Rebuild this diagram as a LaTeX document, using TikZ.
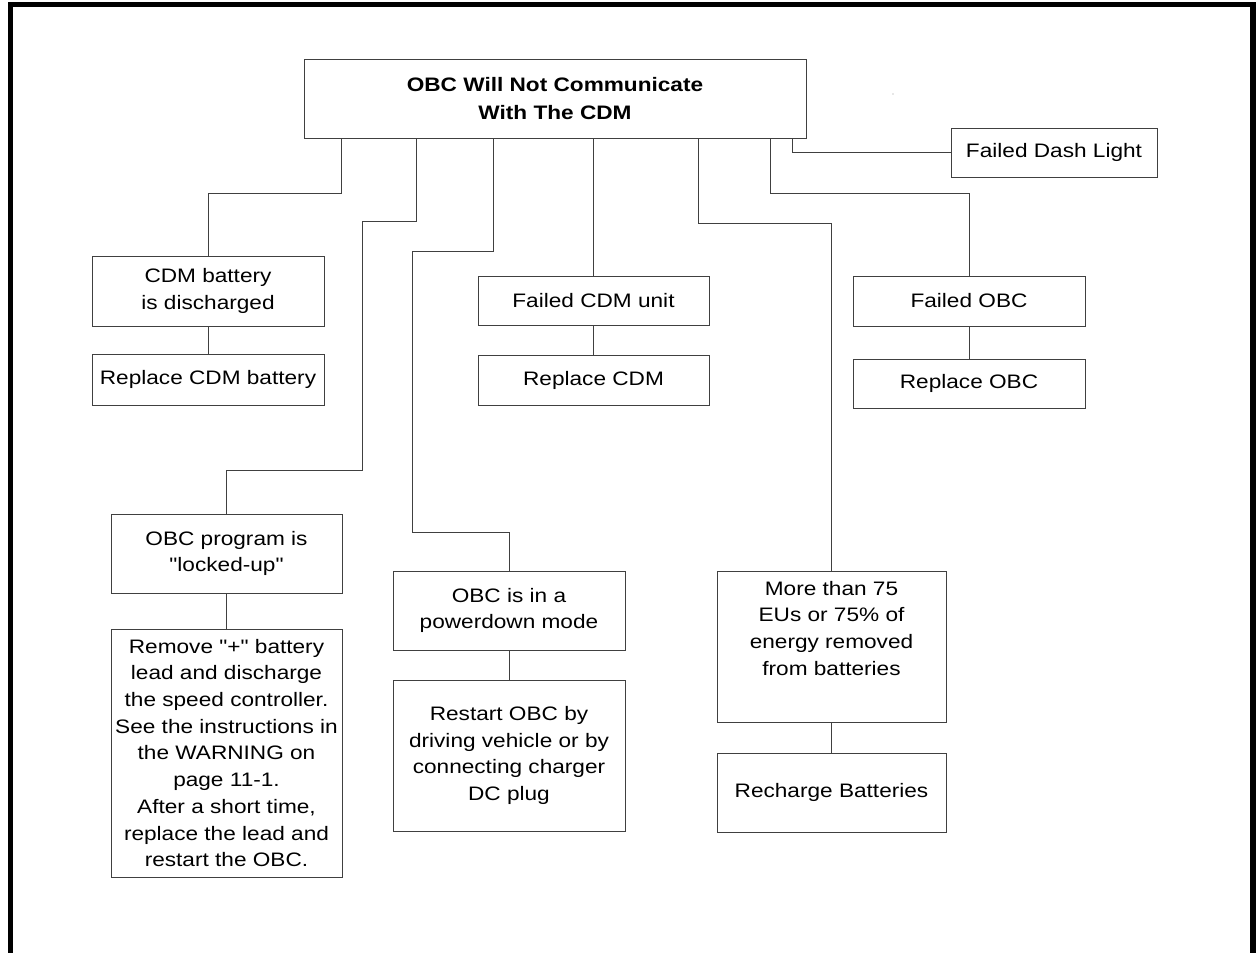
\documentclass[tikz,border=0pt]{standalone}
\usepackage{fontspec}
\setmainfont{Liberation Sans}[FakeStretch=1.16,Ligatures=TeXOff]
\begin{document}
\begin{tikzpicture}[x=1pt,y=-1pt,
  box/.style={draw=black!75,line width=1pt,align=center,inner sep=0pt,
    font=\fontsize{19.5}{26.7}\selectfont},
  conn/.style={draw=black!75,line width=1pt}]
\useasboundingbox (0,0) rectangle (1256,953);
\draw[line width=5.5pt] (10.5,953) -- (10.5,4.5) -- (1253,4.5) -- (1253,953);
\fill[black!40] (893,94) circle (0.7);
% nodes
\node[box,minimum width=502,minimum height=79,font=\fontsize{19.5}{28}\selectfont\bfseries] (main) at (555,98.5) {OBC Will Not Communicate\\With The CDM};
\node[box,minimum width=206,minimum height=49] (dash) at (1054,152.5) {Failed Dash Light};
\node[box,minimum width=232,minimum height=70] (cdmbat) at (208,291) {CDM battery\\is discharged};
\node[box,minimum width=232,minimum height=51] (repbat) at (208,379.5) {Replace CDM battery};
\node[box,minimum width=231,minimum height=49] (failcdm) at (593.5,300.5) {Failed CDM unit};
\node[box,minimum width=231,minimum height=50] (repcdm) at (593.5,380) {Replace CDM};
\node[box,minimum width=232,minimum height=50] (failobc) at (969,301) {Failed OBC};
\node[box,minimum width=232,minimum height=49] (repobc) at (969,383.5) {Replace OBC};
\node[box,minimum width=231,minimum height=79] (locked) at (226.5,553.5) {OBC program is\\"locked-up"};
\node[box,minimum width=231,minimum height=248] (remove) at (226.5,753) {Remove "+" battery\\lead and discharge\\the speed controller.\\See the instructions in\\the WARNING on\\page 11-1.\\After a short time,\\replace the lead and\\restart the OBC.};
\node[box,minimum width=232,minimum height=79] (powerdown) at (509,610.5) {OBC is in a\\powerdown mode};
\node[box,minimum width=232,minimum height=151] (restart) at (509,755.5) {Restart OBC by\\driving vehicle or by\\connecting charger\\DC plug};
\node[box,minimum width=229,minimum height=151] (more) at (831.5,646.5) {More than 75\\EUs or 75\% of\\energy removed\\from batteries\\[10pt]};
\node[box,minimum width=229,minimum height=79] (recharge) at (831.5,792.5) {Recharge Batteries};
% bend coordinates
\coordinate (b1) at (341,193);
\coordinate (b2a) at (416,221);
\coordinate (b2b) at (362,470);
\coordinate (b3a) at (493,251);
\coordinate (b3b) at (412,532);
\coordinate (b5) at (698,223);
\coordinate (b6) at (770,193);
\coordinate (b7) at (792,152.5);
% connectors
\draw[conn] (main.south -| b1) -- (b1) -| (cdmbat.north);
\draw[conn] (main.south -| b2a) -- (b2a) -| (b2b) -| (locked.north);
\draw[conn] (main.south -| b3a) -- (b3a) -| (b3b) -| (powerdown.north);
\draw[conn] (main.south -| failcdm.north) -- (failcdm.north);
\draw[conn] (main.south -| b5) -- (b5) -| (more.north);
\draw[conn] (main.south -| b6) -- (b6) -| (failobc.north);
\draw[conn] (main.south -| b7) -- (b7) -- (dash.west);
\draw[conn] (cdmbat.south) -- (repbat.north);
\draw[conn] (failcdm.south) -- (repcdm.north);
\draw[conn] (failobc.south) -- (repobc.north);
\draw[conn] (locked.south) -- (remove.north);
\draw[conn] (powerdown.south) -- (restart.north);
\draw[conn] (more.south) -- (recharge.north);
\end{tikzpicture}
\end{document}
